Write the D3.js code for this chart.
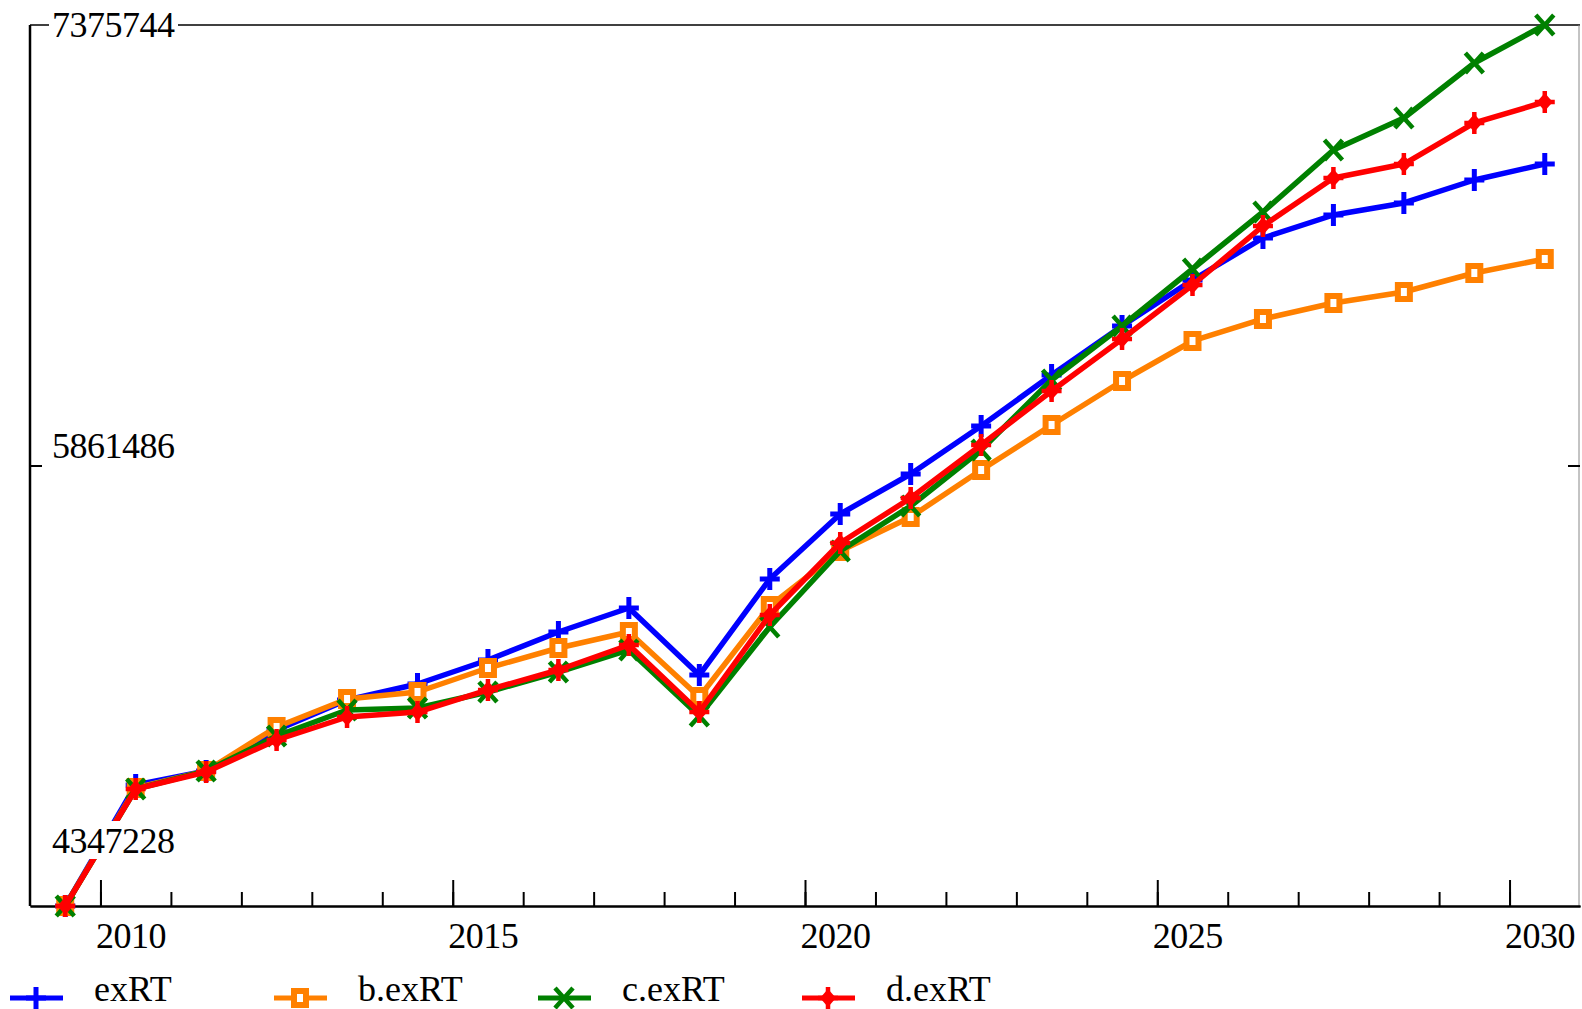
<!DOCTYPE html>
<html>
<head>
<meta charset="utf-8">
<script src="https://cdn.jsdelivr.net/npm/d3@7"></script>
<style>
body{margin:0;background:#fff;overflow:hidden;}
svg{display:block;}
text{font-family:"Liberation Serif","Times New Roman",serif;fill:#000;}
</style>
</head>
<body>
<div id="chart"></div>
<script>
// years of the run
var years = [2009,2010,2011,2012,2013,2014,2015,2016,2017,2018,2019,2020,2021,2022,2023,2024,2025,2026,2027,2028,2029,2030];

// series
var exRT  = [4347228,4763200,4811300,4952200,5055400,5110400,5192900,5289100,5371600,5141300,5471300,5694800,5832300,5997300,6172600,6341000,6499200,6643500,6722600,6763900,6842900,6897900];
var bexRT = [4347228,4752900,4811300,4962600,5058800,5082900,5165400,5234100,5289100,5065700,5378500,5567600,5684500,5846000,6000700,6152000,6289500,6365100,6420100,6457900,6523200,6571400];
var cexRT = [4347228,4749400,4811300,4931600,5021000,5027900,5082900,5151600,5227300,5000400,5306300,5567600,5722300,5914800,6155400,6341000,6537000,6732900,6946100,7056100,7245100,7375744];
var dexRT = [4347228,4749400,4807900,4917900,4996900,5014100,5089800,5158500,5244400,5014100,5347600,5595100,5749800,5932000,6117600,6296300,6482000,6684800,6849800,6897900,7038900,7111100];

var seriesNames  = ["exRT","b.exRT","c.exRT","d.exRT"];
var seriesColors = ["#0000ff","#ff8000","#008000","#ff0000"];

var yTicks = [4347228,5861486,7375744];
var xMajor = [2010,2015,2020,2025,2030];

var W = 1582, H = 1009;
var pLeft = 30, pRight = 1580, pTop = 25, pBottom = 906;

var x = d3.scaleLinear().domain([2009, 2031]).range([pLeft, pRight]);
var y = d3.scaleLinear().domain([yTicks[0], yTicks[2]]).range([pBottom, pTop]);

var svg = d3.select("#chart").append("svg")
    .attr("width", W)
    .attr("height", H);

// frame
svg.append("line").attr("x1", pLeft).attr("x2", pLeft).attr("y1", pTop).attr("y2", pBottom)
    .attr("stroke", "#000").attr("stroke-width", 2.5);
svg.append("line").attr("x1", pLeft).attr("x2", pRight).attr("y1", pTop).attr("y2", pTop)
    .attr("stroke", "#000").attr("stroke-width", 1.5);
svg.append("line").attr("x1", pRight - 1).attr("x2", pRight - 1).attr("y1", pTop).attr("y2", pBottom)
    .attr("stroke", "#888").attr("stroke-width", 1);

// x axis, ticks pointing inside
var minor = svg.append("g").attr("transform", "translate(0," + pBottom + ")")
    .call(d3.axisBottom(x).tickValues(d3.range(2010, 2031)).tickSize(-14).tickSizeOuter(0).tickFormat(""));
var major = svg.append("g").attr("transform", "translate(0," + pBottom + ")")
    .call(d3.axisBottom(x).tickValues(xMajor).tickSize(-26).tickSizeOuter(0).tickFormat(d3.format("d")));
svg.selectAll(".domain").attr("stroke", "#000").attr("stroke-width", 2);
svg.selectAll(".tick line").attr("stroke", "#000").attr("stroke-width", 2);
major.selectAll("text")
    .attr("x", -5).attr("y", 42).attr("dy", null)
    .attr("text-anchor", "start")
    .style("font-family", "Liberation Serif, serif")
    .style("font-size", "36px")
    .style("letter-spacing", "-0.5px")
    .attr("fill", "#000");

// y ticks, inward on both sides
svg.append("g").attr("transform", "translate(" + pLeft + ",0)")
    .call(d3.axisRight(y).tickValues([yTicks[1]]).tickSize(12).tickFormat(""))
    .select(".domain").remove();
svg.append("g").attr("transform", "translate(" + pRight + ",0)")
    .call(d3.axisLeft(y).tickValues([yTicks[1]]).tickSize(12).tickFormat(""))
    .select(".domain").remove();
svg.selectAll(".tick line").attr("stroke", "#000").attr("stroke-width", 2);

// markers
function marker(g, i) {
    var c = seriesColors[i];
    if (i == 0) {
        g.append("path").attr("d", "M-10,0H10M0,-11V11").attr("stroke", c).attr("stroke-width", 5).attr("fill", "none");
    } else if (i == 1) {
        g.append("rect").attr("x", -6).attr("y", -7).attr("width", 12).attr("height", 14)
            .attr("stroke", c).attr("stroke-width", 6).attr("fill", "#fff");
    } else if (i == 2) {
        g.append("path").attr("d", "M-9,-10L9,10M-9,10L9,-10").attr("stroke", c).attr("stroke-width", 4.5).attr("fill", "none");
    } else {
        g.append("path").attr("d", "M0,-9L8,0L0,9L-8,0Z").attr("fill", c);
        g.append("path").attr("d", "M-10,0H10M0,-11V11").attr("stroke", c).attr("stroke-width", 4.5).attr("fill", "none");
    }
}

var allSeries = [exRT, bexRT, cexRT, dexRT];

var line = d3.line()
    .x(function(d, i){ return x(years[i] + 0.5); })
    .y(function(d){ return y(d); });

allSeries.forEach(function(vals, i) {
    var g = svg.append("g");
    g.append("path")
        .datum(vals)
        .attr("d", line)
        .attr("fill", "none")
        .attr("stroke", seriesColors[i])
        .attr("stroke-width", 5.5)
        .attr("stroke-linejoin", "round");
    g.selectAll("g.pt")
        .data(vals)
        .enter()
        .append("g")
        .attr("class", "pt")
        .attr("transform", function(d, j){ return "translate(" + x(years[j] + 0.5) + "," + y(d) + ")"; })
        .each(function(){ marker(d3.select(this), i); });
});

// y labels with white boxes
var labelG = svg.append("g");
yTicks.forEach(function(v, i) {
    var base = i == 2 ? y(v) + 12 : (i == 1 ? y(v) - 8 : y(v) - 53);
    var t = labelG.append("text")
        .attr("x", 52)
        .attr("y", base)
        .style("font-size", "36px")
        .style("letter-spacing", "-0.5px")
        .text(v);
    var bb = t.node().getBBox();
    labelG.insert("rect", "text")
        .attr("x", bb.x - 3).attr("y", bb.y)
        .attr("width", bb.width + 6).attr("height", bb.height - 2)
        .attr("fill", "#fff");
});

// legend
var legend = svg.append("g").attr("transform", "translate(10,998)");
seriesNames.forEach(function(name, i) {
    var g = legend.append("g").attr("transform", "translate(" + (i * 264) + ",0)");
    g.append("line").attr("x1", 0).attr("x2", 53).attr("y1", 0).attr("y2", 0)
        .attr("stroke", seriesColors[i]).attr("stroke-width", 5);
    marker(g.append("g").attr("transform", "translate(26,0)"), i);
    g.append("text").attr("x", 84).attr("y", 3)
        .style("font-size", "36px")
        .text(name);
});
</script>
</body>
</html>
